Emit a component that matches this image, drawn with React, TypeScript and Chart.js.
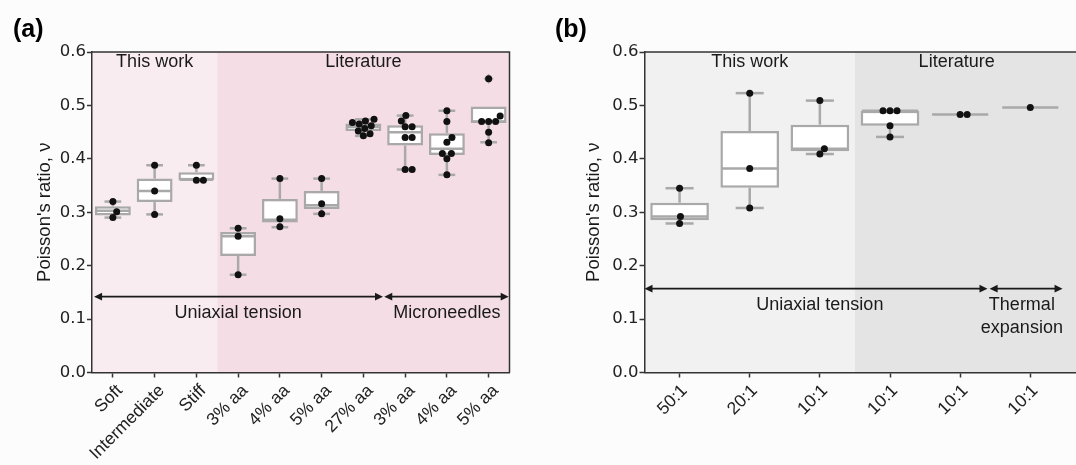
import React, { useEffect, useRef } from 'react';
import { Chart, registerables } from 'chart.js';

Chart.register(...registerables);

// ---------------- Panel (a) data ----------------
const catsA = ['Soft', 'Intermediate', 'Stiff', '3% aa', '4% aa', '5% aa', '27% aa', '3% aa', '4% aa', '5% aa'];
const lowA = [0.290, 0.296, 0.360, 0.183, 0.272, 0.297, 0.443, 0.380, 0.370, 0.431];
const q1A = [0.294, 0.319, 0.360, 0.218, 0.281, 0.306, 0.452, 0.425, 0.407, 0.467];
const medA = [0.303, 0.340, 0.361, 0.255, 0.286, 0.313, 0.460, 0.450, 0.419, 0.470];
const q3A = [0.311, 0.363, 0.375, 0.263, 0.325, 0.340, 0.466, 0.463, 0.448, 0.498];
const highA = [0.320, 0.388, 0.388, 0.270, 0.363, 0.363, 0.474, 0.481, 0.490, 0.498];
const pointsA = [
  [0.320, 0.301, 0.290],
  [0.388, 0.340, 0.296],
  [0.388, 0.360, 0.360],
  [0.270, 0.255, 0.183],
  [0.363, 0.288, 0.273],
  [0.363, 0.316, 0.297],
  [0.474, 0.471, 0.468, 0.465, 0.462, 0.457, 0.452, 0.447, 0.443],
  [0.481, 0.471, 0.460, 0.460, 0.440, 0.440, 0.380, 0.380],
  [0.490, 0.470, 0.440, 0.431, 0.410, 0.410, 0.400, 0.370],
  [0.550, 0.480, 0.470, 0.470, 0.470, 0.450, 0.430],
];
const fliersA = [[], [], [], [], [], [], [], [], [], [0.550]];
const groupsA = ['This work', 'Literature'];
const methodsA = ['Uniaxial tension', 'Microneedles'];

// ---------------- Panel (b) data ----------------
const catsB = ['50:1', '20:1', '10:1', '10:1', '10:1', '10:1'];
const lowB = [0.279, 0.308, 0.409, 0.441, 0.483, 0.496];
const q1B = [0.285, 0.346, 0.414, 0.462, 0.483, 0.496];
const medB = [0.292, 0.382, 0.419, 0.490, 0.483, 0.496];
const q3B = [0.318, 0.452, 0.464, 0.490, 0.483, 0.496];
const highB = [0.345, 0.523, 0.509, 0.490, 0.483, 0.496];
const pointsB = [
  [0.345, 0.292, 0.279],
  [0.523, 0.382, 0.308],
  [0.509, 0.419, 0.409],
  [0.490, 0.490, 0.490, 0.462, 0.441],
  [0.483, 0.483],
  [0.496],
];
const fliersB = [[], [], [], [], [], []];
const groupsB = ['This work', 'Literature'];
const methodsB = ['Uniaxial tension', 'Thermal\nexpansion'];

const yTicks = [0, 0.1, 0.2, 0.3, 0.4, 0.5, 0.6];
const yTitle = "Poisson's ratio, \u03bd";

// ---------------- styles / layout ----------------
const FONT = '"Liberation Sans", Arial, sans-serif';
const TICK_FONT = '"DejaVu Sans", sans-serif';
const H = 465;
const TOP = 52;
const XAXIS_H = 92.5;
const EDGE = '#a9a9a9';
const SPINE = '#333333';
const TEXT = '#1a1a1a';
const DOT = 7; // marker diameter in px

type Panel = {
  cats: string[]; low: number[]; q1: number[]; med: number[]; q3: number[]; high: number[];
  pts: number[][]; fliers: number[][];
  groups: string[]; groupX: number[]; groupY: number;
  methods: string[]; methodX: number[]; methodY: number;
  arrows: [number, number][]; arrowY: number;
  split: number; light: string; dark: string;
  xMax: number; width: number; yAxisW: number; rightPad: number; titlePad: number;
  barPct: number; label: string; labelX: number; labelShift: number;
};

const panelA: Panel = {
  cats: catsA, low: lowA, q1: q1A, med: medA, q3: q3A, high: highA, pts: pointsA, fliers: fliersA,
  groups: groupsA, groupX: [1, 6], groupY: 0.582,
  methods: methodsA, methodX: [3, 8], methodY: 0.112,
  arrows: [[-0.45, 6.47], [6.5, 9.48]], arrowY: 0.142,
  split: 2.5, light: '#f9ecf0', dark: '#f5dde5',
  xMax: 9.5, width: 540, yAxisW: 92, rightPad: 30.5, titlePad: 33.5,
  barPct: 0.86, label: '(a)', labelX: 13, labelShift: 7,
};

const panelB: Panel = {
  cats: catsB, low: lowB, q1: q1B, med: medB, q3: q3B, high: highB, pts: pointsB, fliers: fliersB,
  groups: groupsB, groupX: [1, 3.95], groupY: 0.582,
  methods: methodsB, methodX: [2, 4.88], methodY: 0.127,
  arrows: [[-0.5, 4.39], [4.42, 5.46]], arrowY: 0.157,
  split: 2.5, light: '#f1f1f1', dark: '#e4e4e4',
  xMax: 5.78, width: 560, yAxisW: 104.5, rightPad: 15, titlePad: 43,
  barPct: 0.836, label: '(b)', labelX: 15, labelShift: 5,
};

function swarmOffsets(values: number[], pxX: number, pxY: number, d: number): number[] {
  const order = values.map((_, i) => i).sort((a, b) => values[a] - values[b]);
  const placed: { x: number; y: number }[] = [];
  const out: number[] = new Array(values.length).fill(0);
  for (const i of order) {
    const y = values[i] * pxY;
    const cands: number[] = [0];
    for (const p of placed) {
      const dy = y - p.y;
      if (Math.abs(dy) < d) {
        const dx = Math.sqrt(d * d - dy * dy);
        cands.push(p.x + dx, p.x - dx);
      }
    }
    const sorted = cands
      .map((c, k) => ({ c, k }))
      .sort((a, b) => Math.abs(a.c) - Math.abs(b.c) || a.k - b.k);
    let chosen = 0;
    for (const { c } of sorted) {
      if (placed.every((p) => (c - p.x) ** 2 + (y - p.y) ** 2 >= d * d - 1e-6)) {
        chosen = c;
        break;
      }
    }
    placed.push({ x: chosen, y });
    out[i] = chosen / pxX;
  }
  return out;
}

function drawArrow(ctx: CanvasRenderingContext2D, x1: number, x2: number, y: number) {
  const hl = 8, hw = 3.8;
  ctx.save();
  ctx.strokeStyle = TEXT;
  ctx.fillStyle = TEXT;
  ctx.lineWidth = 1.8;
  ctx.beginPath();
  ctx.moveTo(x1 + hl - 1, y);
  ctx.lineTo(x2 - hl + 1, y);
  ctx.stroke();
  ctx.beginPath();
  ctx.moveTo(x1, y);
  ctx.lineTo(x1 + hl, y - hw);
  ctx.lineTo(x1 + hl, y + hw);
  ctx.closePath();
  ctx.fill();
  ctx.beginPath();
  ctx.moveTo(x2, y);
  ctx.lineTo(x2 - hl, y - hw);
  ctx.lineTo(x2 - hl, y + hw);
  ctx.closePath();
  ctx.fill();
  ctx.restore();
}

function makeConfig(p: Panel): any {
  const plotW = p.width - p.yAxisW - p.rightPad;
  const pxX = plotW / (p.xMax + 0.5);
  const pxY = (H - TOP - XAXIS_H) / 0.6;

  const pointData: { x: number; y: number }[] = [];
  p.pts.forEach((vals, i) => {
    const offs = swarmOffsets(vals, pxX, pxY, DOT);
    vals.forEach((v, k) => pointData.push({ x: i + offs[k], y: v }));
  });
  const flierData: { x: number; y: number }[] = [];
  p.fliers.forEach((vals, i) => vals.forEach((v) => flierData.push({ x: i, y: v })));

  const decor = {
    id: 'decor',
    beforeDraw(chart: any) {
      const { ctx, chartArea: a, scales } = chart;
      const xs = scales.x;
      ctx.save();
      ctx.fillStyle = '#fdfcfc';
      ctx.fillRect(0, 0, chart.width, chart.height);
      const sx = xs.getPixelForValue(p.split);
      ctx.fillStyle = p.light;
      ctx.fillRect(a.left, a.top, sx - a.left, a.bottom - a.top);
      ctx.fillStyle = p.dark;
      ctx.fillRect(sx, a.top, a.right - sx, a.bottom - a.top);
      ctx.restore();
    },
    afterDatasetDraw(chart: any, args: any) {
      if (args.meta.type !== 'bar') return;
      const { ctx, scales } = chart;
      const xs = scales.x, ys = scales.y;
      const unit = xs.getPixelForValue(1) - xs.getPixelForValue(0);
      const hw = unit * 0.4, cw = unit * 0.2;
      ctx.save();
      ctx.strokeStyle = EDGE;
      ctx.lineWidth = 2.5;
      const line = (x1: number, y1: number, x2: number, y2: number) => {
        ctx.beginPath();
        ctx.moveTo(x1, y1);
        ctx.lineTo(x2, y2);
        ctx.stroke();
      };
      p.cats.forEach((_, i) => {
        const cx = xs.getPixelForValue(i);
        const yHi = ys.getPixelForValue(p.high[i]);
        const yLo = ys.getPixelForValue(p.low[i]);
        const yQ3 = ys.getPixelForValue(p.q3[i]);
        const yQ1 = ys.getPixelForValue(p.q1[i]);
        const yMed = ys.getPixelForValue(p.med[i]);
        if (p.high[i] > p.q3[i]) {
          line(cx, yQ3, cx, yHi);
          line(cx - cw, yHi, cx + cw, yHi);
        }
        if (p.low[i] < p.q1[i]) {
          line(cx, yQ1, cx, yLo);
          line(cx - cw, yLo, cx + cw, yLo);
        }
        line(cx - hw, yMed, cx + hw, yMed);
      });
      ctx.restore();
    },
    afterDatasetsDraw(chart: any) {
      const { ctx, chartArea: a, scales } = chart;
      const xs = scales.x, ys = scales.y;
      ctx.save();
      // top / right spines
      ctx.strokeStyle = SPINE;
      ctx.lineWidth = 1.5;
      ctx.beginPath();
      ctx.moveTo(a.left, a.top);
      ctx.lineTo(a.right, a.top);
      ctx.lineTo(a.right, a.bottom);
      ctx.stroke();
      // arrows
      const ay = ys.getPixelForValue(p.arrowY);
      p.arrows.forEach(([f, t]) => drawArrow(ctx, xs.getPixelForValue(f), xs.getPixelForValue(t), ay));
      // texts
      ctx.fillStyle = TEXT;
      ctx.font = `18px ${FONT}`;
      ctx.textAlign = 'center';
      ctx.textBaseline = 'middle';
      p.groups.forEach((g, i) => ctx.fillText(g, xs.getPixelForValue(p.groupX[i]), ys.getPixelForValue(p.groupY)));
      p.methods.forEach((m, i) => {
        const lines = m.split('\n');
        lines.forEach((ln, k) => {
          ctx.fillText(ln, xs.getPixelForValue(p.methodX[i]), ys.getPixelForValue(p.methodY) + k * 23);
        });
      });
      ctx.restore();
    },
    afterDraw(chart: any) {
      const { ctx } = chart;
      ctx.save();
      ctx.fillStyle = '#000';
      ctx.font = `bold 25px ${FONT}`;
      ctx.textAlign = 'left';
      ctx.textBaseline = 'alphabetic';
      ctx.fillText(p.label, p.labelX, 36.5);
      ctx.restore();
    },
  };

  return {
    type: 'bar',
    data: {
      datasets: [
        {
          type: 'scatter',
          data: pointData,
          backgroundColor: '#111111',
          borderWidth: 0,
          pointRadius: DOT / 2,
          order: 1,
        },
        {
          type: 'scatter',
          data: flierData,
          pointStyle: 'rectRot',
          backgroundColor: EDGE,
          borderWidth: 0,
          pointRadius: 5,
          order: 2,
        },
        {
          type: 'bar',
          data: p.cats.map((_, i) => ({ x: i, y: [p.q1[i], p.q3[i]] })),
          backgroundColor: '#ffffff',
          borderColor: EDGE,
          borderWidth: 2.5,
          borderSkipped: false,
          categoryPercentage: 1,
          barPercentage: p.barPct,
          order: 3,
        },
      ],
    },
    options: {
      animation: false,
      responsive: false,
      devicePixelRatio: 1,
      events: [],
      layout: { padding: { left: 0, right: p.rightPad, top: TOP, bottom: 0 } },
      plugins: { legend: { display: false }, tooltip: { enabled: false } },
      scales: {
        x: {
          type: 'linear',
          min: -0.5,
          max: p.xMax,
          offset: false,
          afterBuildTicks: (s: any) => {
            s.ticks = p.cats.map((_, i) => ({ value: i }));
          },
          afterFit: (s: any) => {
            s.height = XAXIS_H;
          },
          grid: {
            display: true,
            offset: false,
            drawOnChartArea: false,
            drawTicks: true,
            tickLength: 5,
            tickWidth: 1.5,
            tickColor: SPINE,
          },
          border: { display: true, color: SPINE, width: 1.5 },
          ticks: {
            autoSkip: false,
            minRotation: 45,
            maxRotation: 45,
            padding: 3,
            labelOffset: p.labelShift,
            color: '#222222',
            font: { family: FONT, size: 17.5 },
            callback: (v: number) => p.cats[Math.round(v)] ?? '',
          },
        },
        y: {
          type: 'linear',
          min: 0,
          max: 0.6,
          afterBuildTicks: (s: any) => {
            s.ticks = yTicks.map((v) => ({ value: v }));
          },
          afterFit: (s: any) => {
            s.width = p.yAxisW;
          },
          grid: {
            display: true,
            drawOnChartArea: false,
            drawTicks: true,
            tickLength: 5,
            tickWidth: 1.5,
            tickColor: SPINE,
          },
          border: { display: true, color: SPINE, width: 1.5 },
          ticks: {
            padding: 1,
            color: '#222222',
            font: { family: TICK_FONT, size: 16.5 },
            callback: (v: number) => v.toFixed(1),
          },
          title: {
            display: true,
            text: yTitle,
            color: TEXT,
            font: { family: FONT, size: 18.5 },
            padding: { top: p.titlePad, bottom: 0 },
          },
        },
      },
    },
    plugins: [decor],
  };
}

function PanelChart({ panel, left }: { panel: Panel; left: number }) {
  const ref = useRef<HTMLCanvasElement | null>(null);
  useEffect(() => {
    if (!ref.current) return;
    const chart = new Chart(ref.current, makeConfig(panel));
    return () => chart.destroy();
  }, [panel]);
  return (
    <div style={{ position: 'absolute', left, top: 0, width: panel.width, height: H }}>
      <canvas ref={ref} width={panel.width} height={H} style={{ display: 'block', width: panel.width, height: H }} />
    </div>
  );
}

export default function App() {
  return (
    <div
      style={{
        position: 'absolute',
        left: 0,
        top: 0,
        width: 1076,
        height: H,
        overflow: 'hidden',
        background: '#fdfcfc',
      }}
    >
      <PanelChart panel={panelA} left={0} />
      <PanelChart panel={panelB} left={540} />
    </div>
  );
}
